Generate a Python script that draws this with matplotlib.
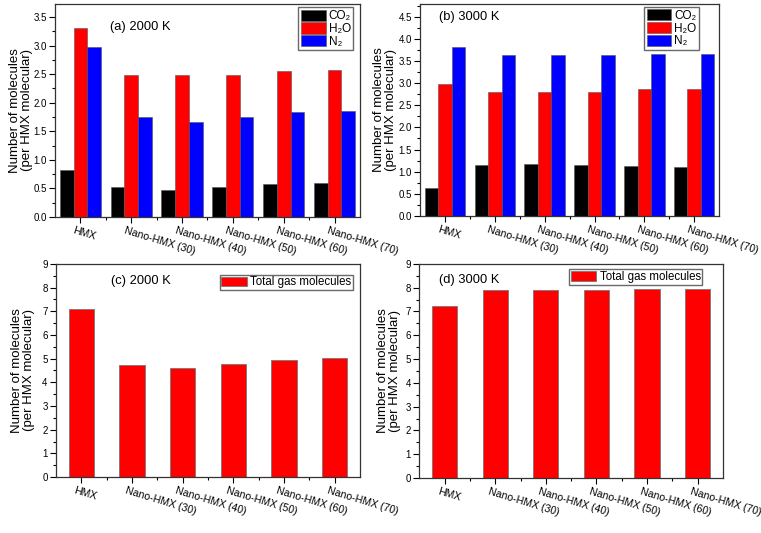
import numpy as np
import matplotlib.pyplot as plt
import matplotlib.transforms as mtransforms
from matplotlib.ticker import MultipleLocator, FixedLocator

plt.rcParams['font.family'] = ['Liberation Sans', 'DejaVu Sans']

# data
samples = ['HMX', 'Nano-HMX (30)', 'Nano-HMX (40)', 'Nano-HMX (50)', 'Nano-HMX (60)', 'Nano-HMX (70)']
species = ['CO\u2082', 'H\u2082O', 'N\u2082']

co2_2000 = [0.82, 0.53, 0.47, 0.53, 0.57, 0.59]
h2o_2000 = [3.31, 2.48, 2.48, 2.49, 2.55, 2.58]
n2_2000 = [2.98, 1.75, 1.67, 1.75, 1.83, 1.85]

co2_3000 = [0.62, 1.15, 1.17, 1.15, 1.12, 1.10]
h2o_3000 = [2.98, 2.80, 2.81, 2.81, 2.86, 2.87]
n2_3000 = [3.81, 3.63, 3.64, 3.63, 3.65, 3.66]

total_2000 = [7.11, 4.75, 4.61, 4.77, 4.93, 5.01]
total_3000 = [7.21, 7.88, 7.92, 7.90, 7.94, 7.94]

colors = ['black', '#ff0000', '#0000ff']
ylab = 'Number of molecules\n(per HMX molecular)'

fig = plt.figure(figsize=(7.61, 5.33), dpi=100)
ax_a = fig.add_axes([0.0723, 0.593, 0.4007, 0.3995])
ax_b = fig.add_axes([0.552, 0.595, 0.393, 0.3975])
ax_c = fig.add_axes([0.0736, 0.105, 0.3994, 0.400])
ax_d = fig.add_axes([0.551, 0.103, 0.399, 0.402])

x = np.arange(len(samples))


def style(ax, ymax, major, minor, fmt, labx):
    ax.set_xlim(-0.5, len(samples) - 0.5)
    ax.set_ylim(0, ymax)
    ax.yaxis.set_major_locator(MultipleLocator(major))
    ax.yaxis.set_minor_locator(MultipleLocator(minor))
    ax.yaxis.set_major_formatter(fmt)
    ax.set_xticks(x)
    ax.set_xticklabels([])
    ax.xaxis.set_minor_locator(FixedLocator(x[:-1] + 0.5))
    # rotated category labels, anchored a little left of each tick
    trans = ax.get_xaxis_transform() + mtransforms.ScaledTranslation(-4 / 72, -6 / 72, fig.dpi_scale_trans)
    for xi, s in zip(x, samples):
        ax.text(xi, 0, s, transform=trans, rotation=-17, ha='left', va='top',
                rotation_mode='anchor', fontsize=7.6)
    ax.tick_params(axis='y', labelsize=7)
    ax.tick_params(which='major', length=4, width=0.8, direction='out', pad=2)
    ax.tick_params(which='minor', length=2.5, width=0.8, direction='out')
    for sp in ax.spines.values():
        sp.set_color('#333333')
        sp.set_linewidth(0.9)
    ax.set_ylabel(ylab, fontsize=9.5, linespacing=1.0)
    ax.yaxis.set_label_coords(labx, 0.5)


def grouped(ax, series, ymax, title, tx, ty, legbox, labx):
    w = 0.27
    for k, (vals, c, lab) in enumerate(zip(series, colors, species)):
        ax.bar(x + (k - 1) * w, vals, w, color=c, edgecolor='#555555', linewidth=0.4, label=lab)
    style(ax, ymax, 0.5, 0.25, '{x:.1f}', labx)
    ax.text(tx, ty, title, transform=ax.transAxes, fontsize=9.3, va='center')
    ax.legend(loc='upper right', bbox_to_anchor=legbox, fontsize=8.5, frameon=True, fancybox=False,
              edgecolor='#444444', handlelength=2.1, handleheight=1.1, labelspacing=0.0,
              handletextpad=0.25, borderpad=0.2, borderaxespad=0.2)


def total(ax, vals, title, tx, ty, legbox, labx):
    ax.bar(x, vals, 0.5, color='#ff0000', edgecolor='#777777', linewidth=0.6, label='Total gas molecules')
    style(ax, 9, 1, 0.5, '{x:.0f}', labx)
    ax.text(tx, ty, title, transform=ax.transAxes, fontsize=9.3, va='center')
    ax.legend(loc='upper right', bbox_to_anchor=legbox, fontsize=8.3, frameon=True, fancybox=False,
              edgecolor='#444444', handlelength=2.2, handleheight=0.9,
              handletextpad=0.3, borderpad=0.15, borderaxespad=0.2)


grouped(ax_a, [co2_2000, h2o_2000, n2_2000], 3.73, '(a) 2000 K', 0.18, 0.89, (0.985, 0.995), -0.072)
grouped(ax_b, [co2_3000, h2o_3000, n2_3000], 4.79, '(b) 3000 K', 0.064, 0.94, (0.94, 0.998), -0.077)
total(ax_c, total_2000, '(c) 2000 K', 0.18, 0.92, (0.985, 0.96), -0.069)
total(ax_d, total_3000, '(d) 3000 K', 0.066, 0.925, (0.94, 0.985), -0.059)

fig.savefig('out.png', dpi=100)
